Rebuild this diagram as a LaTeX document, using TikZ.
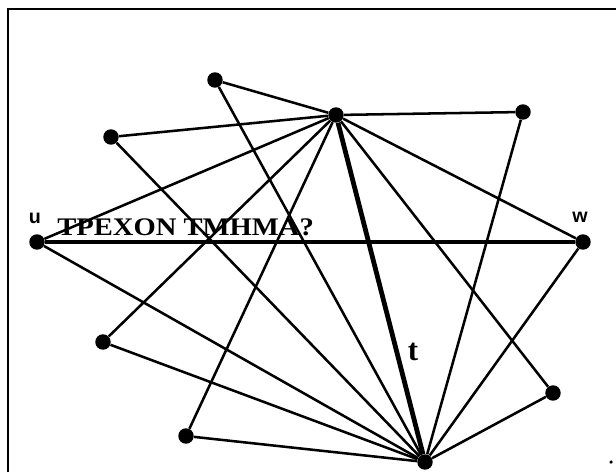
\documentclass[tikz,border=0pt]{standalone}
\usepackage{fontspec}
\setmainfont{Liberation Serif}
\newfontfamily\lblsans{Liberation Sans}
\begin{document}
\begin{tikzpicture}[x=0.025cm,y=-0.025cm,
  vtx/.style={circle,fill=black,inner sep=0pt,minimum size=11pt},
  edge/.style={line width=1.8pt},
  heavy/.style={line width=3.4pt},
  frameline/.style={line width=2pt}]
\useasboundingbox (0,0) rectangle (616,472);
\coordinate (f1) at (8,472);
\coordinate (f2) at (8,9);
\coordinate (f3) at (616,9);
\draw[frameline] (f1) -- (f2) -- (f3);
\node[circle,fill=black,inner sep=0pt,minimum size=2.5pt] (dot) at (611,462) {};
\node[vtx] (A) at (215,80) {};
\node[vtx] (B) at (336,115) {};
\node[vtx] (C) at (523,112) {};
\node[vtx] (D) at (111,137) {};
\node[vtx] (u) at (37,242) {};
\node[vtx] (w) at (583,242) {};
\node[vtx] (E) at (103,342) {};
\node[vtx] (F) at (186,436) {};
\node[vtx] (G) at (425,462) {};
\node[vtx] (H) at (553,393) {};
\foreach \a/\b in {A/B,B/C,B/D,B/u,B/E,B/F,B/H,B/w,A/G,D/G,C/G,u/G,E/G,F/G,H/G,w/G}
  \draw[edge] (\a) -- (\b);
\draw[heavy] (u) -- (w);
\draw[heavy] (B) -- (G);
\node[font=\lblsans\bfseries\fontsize{14}{16}\selectfont] (ul) at (35,218) {u};
\node[font=\lblsans\bfseries\fontsize{14}{16}\selectfont] (wl) at (580,217) {w};
\node[font=\bfseries\fontsize{22}{24}\selectfont] (tl) at (413,352) {t};
\node[font=\bfseries\fontsize{18}{20}\selectfont,xscale=1.13,anchor=base west,inner sep=0pt] (lbl) at (57,235) {ΤΡΕΧΟΝ ΤΜΗΜΑ?};
\end{tikzpicture}
\end{document}
